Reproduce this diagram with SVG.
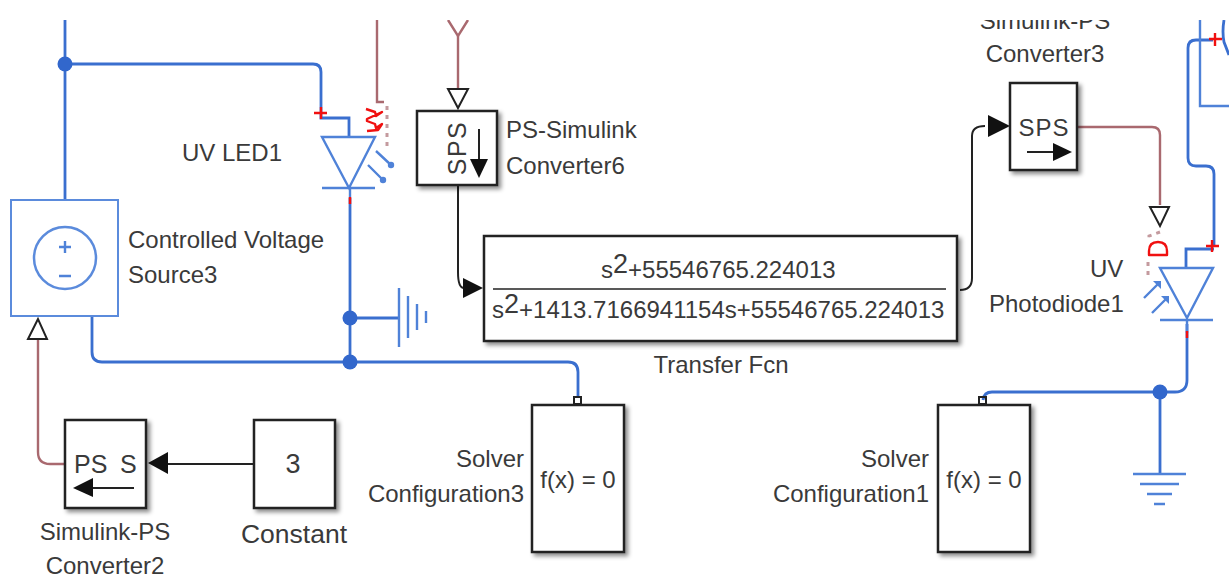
<svg xmlns="http://www.w3.org/2000/svg" width="1229" height="577" viewBox="0 0 1229 577">
<defs>
<filter id="sh" x="-15%" y="-15%" width="130%" height="130%"><feDropShadow dx="3" dy="3" stdDeviation="2" flood-color="#000" flood-opacity="0.45"/></filter>
</defs>
<style>
text{font-family:"Liberation Sans",Arial,sans-serif;fill:#3a3a3a;font-size:24px}
.m{text-anchor:middle}.e{text-anchor:end}
.b{fill:#fff;stroke:#222;stroke-width:2.5;filter:url(#sh)}
.p{fill:none;stroke:#3a6fcf;stroke-width:2.8}
.pt{fill:none;stroke:#4f82d8;stroke-width:2.4}
.s{fill:none;stroke:#a9696f;stroke-width:2.4}
.k{fill:none;stroke:#222;stroke-width:2}
.o{fill:#fff;stroke:#222;stroke-width:2}
.f{fill:#111}
.d{fill:#3267cc}
.r{fill:none;stroke:#f01010;stroke-width:2.4;stroke-linejoin:round}
.dash{fill:none;stroke:#c49a9e;stroke-width:3;stroke-dasharray:4 5}
</style>
<g id="connectors">
<path class="p" d="M65 20V200"/>
<path class="p" d="M65 64H313q8 0 8 8V112"/>
<path class="p" d="M350 198V362"/>
<path class="p" d="M350 318H400"/>
<path class="p" d="M92 316V352q0 10 10 10H568q10 0 10 10V398"/>
<path class="s" d="M377 20V102H384"/>
<path class="s" d="M458 36V88"/>
<path class="s" d="M448 20L458 36L468 20"/>
<path class="k" d="M458 186V272Q458 288 464 288"/>
<path class="k" d="M960 290Q972 290 972 278V136Q972 126 985 126"/>
<path class="s" d="M1078 127H1152q8 0 8 8V205"/>
<path class="s" d="M38 340V452q0 12 12 12H67"/>
<path class="k" d="M254 464H165"/>
<path class="p" d="M1187 324V380q0 12-12 12H992q-8 0-9 8"/>
<path class="p" d="M1160 392V473"/>
<path class="p" d="M1213 40H1196q-8 0-8 8V158q0 8 8 8H1206q8 0 8 8V246"/>
<polygon class="f" points="463,278 483,288 463,298"/>
<polygon class="f" points="988,115 1010,126 988,137"/>
<polygon class="f" points="148,463 168,452 168,474"/>
</g>
<g id="junctions">
<circle class="d" cx="65" cy="64" r="7.5"/>
<circle class="d" cx="350" cy="318" r="7.5"/>
<circle class="d" cx="350" cy="362" r="7.5"/>
<circle class="d" cx="1160" cy="392" r="7.5"/>
</g>
<g id="voltage-source">
<rect x="11" y="200" width="107" height="116" fill="#fff" stroke="#5b8bdc" stroke-width="2"/>
<circle cx="65" cy="258" r="31" fill="none" stroke="#5b8bdc" stroke-width="2.5"/>
<path class="pt" d="M59 247H71M65 241V253M59 276H71" stroke-width="2.5"/>
<polygon class="o" points="38,319 28,339 47,339"/>
<text x="128" y="248">Controlled Voltage</text>
<text x="128" y="283">Source3</text>
</g>
<g id="uv-led1">
<path class="p" d="M321 112V118H349V137"/>
<path class="pt" d="M322 137H375L349 188ZM322 188H375" stroke-width="3"/>
<path class="pt" d="M350 188V198"/>
<path d="M350 197V204" stroke="#f01010" stroke-width="2.5"/>
<path class="r" d="M314 113H327M321 107V119"/>
<path class="r" stroke-width="2" d="M366 109L375 112L376 116L382 112L367 119V121L375 124L376 128L382 124L378 130L367 131"/>
<path class="dash" d="M387 106V148"/>
<path class="pt" d="M376 151L391 165M368 165L383 180" stroke-width="2.6"/>
<circle cx="391" cy="165" r="3.2" fill="#4f82d8"/><circle cx="383" cy="180" r="3.2" fill="#4f82d8"/>
<text x="182" y="161">UV LED1</text>
</g>
<g id="electrical-reference">
<path class="pt" d="M399 288V347M408 296V338M417 304V330M426 311V323" stroke-width="3"/>
</g>
<g id="ps-simulink6">
<polygon class="o" points="448,89 468,89 458,108"/>
<rect class="b" x="417" y="111" width="80" height="74"/>
<text class="m" transform="translate(466 148) rotate(-90)" style="font-size:25px" letter-spacing="1.5">SPS</text>
<path class="k" d="M479 129V160"/>
<polygon class="f" points="470,159 488,159 479,178"/>
<text x="506" y="138">PS-Simulink</text>
<text x="506" y="174">Converter6</text>
</g>
<g id="transfer-fcn">
<rect class="b" x="484" y="236" width="473" height="105"/>
<path d="M493 289H946" stroke="#222" stroke-width="1.6"/>
<text x="601" y="278">s<tspan font-size="27" dy="-5">2</tspan><tspan dy="5">+55546765.224013</tspan></text>
<text x="492" y="318">s<tspan font-size="27" dy="-5">2</tspan><tspan dy="5">+1413.7166941154s+55546765.224013</tspan></text>
<text class="m" x="721" y="373">Transfer Fcn</text>
</g>
<g id="simulink-ps3">
<rect class="b" x="1010" y="83" width="67" height="87"/>
<text class="m" x="1044" y="136" letter-spacing="1">SPS</text>
<path class="k" d="M1027 152H1056"/>
<polygon class="f" points="1053,143 1072,152 1053,161"/>
<text class="m" x="1045" y="29">Simulink-PS</text>
<text class="m" x="1045" y="62">Converter3</text>
</g>
<g id="uv-photodiode1">
<polygon class="o" points="1150,207 1169,207 1160,226"/>
<path class="dash" d="M1160 232L1149 236V240M1148 262V280"/>
<path class="r" d="M1149 255V251Q1149 242 1158 242Q1167 242 1167 251V255Z"/>
<path class="p" d="M1186 267V249H1214"/>
<path class="pt" d="M1160 268H1213L1187 318ZM1160 320H1213" stroke-width="3"/>
<path class="pt" d="M1187 320V333"/>
<path d="M1187 331V338" stroke="#f01010" stroke-width="2.5"/>
<path class="r" d="M1206 246H1219M1212 240V252"/>
<path class="pt" d="M1144 298L1160 282M1152 313L1168 297" stroke-width="2.6"/>
<path d="M1153 281L1161 281L1161 289ZM1161 296L1169 296L1169 304Z" fill="#4f82d8"/>
<text x="1090" y="277">UV</text>
<text x="989" y="312">Photodiode1</text>
</g>
<g id="ground">
<path class="pt" d="M1133 474H1186M1140 484H1179M1147 494H1172M1154 504H1165" stroke-width="3"/>
</g>
<g id="right-edge-block">
<path class="pt" d="M1200 20V106H1229"/>
<path class="p" d="M1224 20Q1222 32 1224 42L1229 55" stroke-width="2.4"/>
<path class="r" d="M1209 39H1222M1215 33V46" stroke-width="3"/>
</g>
<g id="simulink-ps2">
<rect class="b" x="65" y="420" width="81" height="88"/>
<text x="74" y="473" style="font-size:25px">PS</text>
<text x="120" y="473" style="font-size:25px">S</text>
<path class="k" d="M90 488H134"/>
<polygon class="f" points="73,488 93,478 93,497"/>
<text class="m" x="105" y="540">Simulink-PS</text>
<text class="m" x="105" y="574">Converter2</text>
</g>
<g id="constant">
<rect class="b" x="254" y="420" width="81" height="88"/>
<text class="m" x="293" y="473" style="font-size:27px">3</text>
<text class="m" x="294" y="543" style="font-size:26.5px">Constant</text>
</g>
<g id="solver3">
<rect class="k" x="574" y="397" width="7" height="7" stroke-width="1.5"/>
<rect class="b" x="532" y="405" width="92" height="147"/>
<text class="m" x="578" y="488">f(x) = 0</text>
<text class="e" x="524" y="467">Solver</text>
<text class="e" x="524" y="502">Configuration3</text>
</g>
<g id="solver1">
<rect class="k" x="979" y="397" width="7" height="7" stroke-width="1.5"/>
<rect class="b" x="938" y="405" width="92" height="147"/>
<text class="m" x="984" y="488">f(x) = 0</text>
<text class="e" x="929" y="467">Solver</text>
<text class="e" x="929" y="502">Configuration1</text>
</g>
<rect x="0" y="0" width="1229" height="20" fill="#fff"/>
</svg>
